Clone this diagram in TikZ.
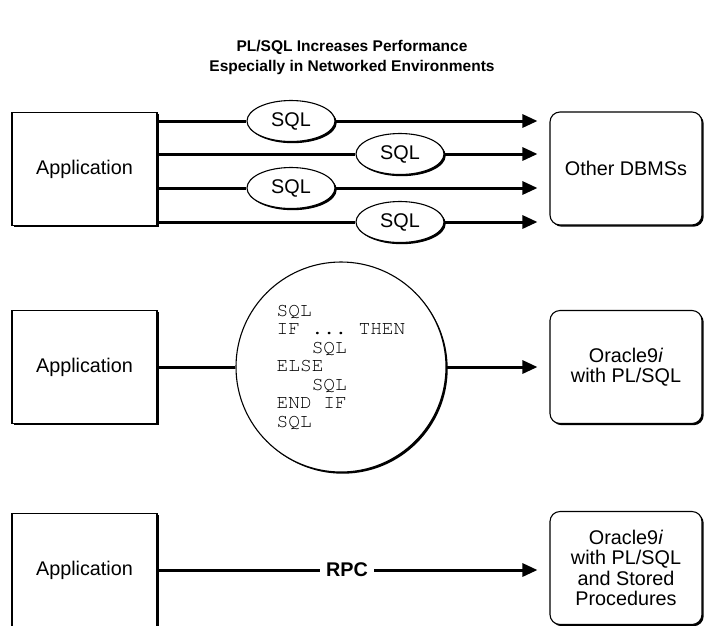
\documentclass[tikz,border=0pt]{standalone}
\usepackage[T1]{fontenc}
\usepackage{fontspec}
\setmainfont{Liberation Sans}
\setmonofont{Liberation Mono}
\usepackage{tikz}
\usetikzlibrary{arrows.meta,shapes.geometric,shadows}
\newcommand{\codefont}{\fontencoding{T1}\fontfamily{pcr}\fontsize{19.5}{18.5}\selectfont\frenchspacing}
\tikzset{
SHADOW/.style={drop shadow={shadow xshift=1.7pt, shadow yshift=-1.7pt, fill=black, opacity=1}},
APPBOX/.style={draw=black, fill=white, line width=1.1pt, minimum width=145pt, minimum height=113pt, font=\fontsize{19.8}{20.5}\selectfont, SHADOW},
DBBOX/.style={APPBOX, rounded corners=10pt, minimum width=152pt, align=center},
LINK/.style={draw=black, line width=3pt},
FLOW/.style={LINK, -{Triangle[length=15pt,width=13pt]}, shorten >=12pt},
BUBBLE/.style={ellipse, draw=black, fill=white, line width=1.1pt, minimum width=88pt, minimum height=41pt, inner sep=0pt, font=\fontsize{19.8}{20}\selectfont, SHADOW},
CODEBALL/.style={circle, draw=black, fill=white, line width=1.1pt, minimum size=210pt, align=left, font=\codefont, SHADOW},
}

\begin{document}
\begin{tikzpicture}
[x=1pt, y=-1pt]
	\useasboundingbox (0,0) rectangle (704,625);
	\node[font=\fontsize{15.5}{20}\selectfont\bfseries, align=center] (title) at (352,57) {PL/SQL Increases Performance\\Especially in Networked Environments};
	\node[APPBOX] (app1) at (84.5,169) {Application};
	\node[DBBOX] (dbms) at (626,168.5) {Other DBMSs};
	\foreach \y/\x [count=\i] in {121/291,154/400,188/291,222/400} {
	\node[BUBBLE] (sql\i) at (\x,\y) {SQL};
	\draw[LINK] (app1.east |- sql\i) -- (sql\i);
	\draw[FLOW] (sql\i) -- (sql\i -| dbms.west);}
	\node[APPBOX] (app2) at (84.5,367) {Application};
	\node[DBBOX] (ora) at (626,367) {Oracle9\textit{i}\\with PL/SQL};
	\node[CODEBALL] (block) at (341,367) {SQL\\IF ... THEN\\\hphantom{XXX}SQL\\ELSE\\\hphantom{XXX}SQL\\END IF\\SQL};
	\draw[LINK] (app2) -- (block);
	\draw[FLOW] (block) -- (ora);
	\node[APPBOX] (app3) at (84.5,570) {Application};
	\node[DBBOX] (orasp) at (626,568) {Oracle9\textit{i}\\with PL/SQL\\and Stored\\Procedures};
	\node[font=\fontsize{19.8}{20}\selectfont\bfseries, fill=white, inner xsep=6pt] (rpc) at (347,570) {RPC};
	\draw[LINK] (app3.east |- rpc) -- (rpc);
	\draw[FLOW] (rpc) -- (rpc -| orasp.west);
\end{tikzpicture}
\end{document}
